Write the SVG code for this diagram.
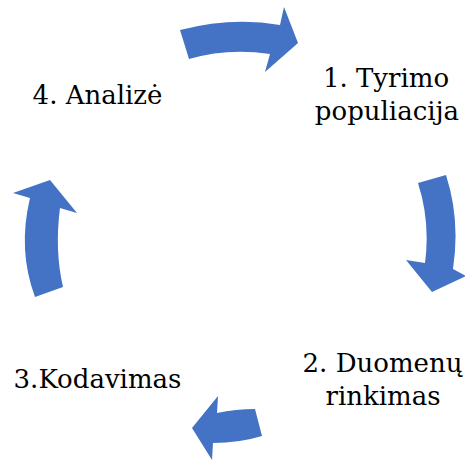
<svg xmlns="http://www.w3.org/2000/svg" width="465" height="461" viewBox="0 0 465 461">
  <style>
    .arrow { fill: #4472C4; stroke: none; }
    .label { font-size: 26px; fill: #000; text-anchor: middle; }
  </style>
  <rect width="465" height="461" fill="#fff"/>

  <!-- curved block arrows of the cycle -->
  <g id="connectors">
    <path class="arrow" d="M180,30 Q232,16.5 280,25 L284,7 L298,43 L265,72 L270,54 Q228,47.5 189,59 Z"/>
    <path class="arrow" d="M418,183 Q430.5,222 425,263 L406,260 L432,292 L466,276 L453,269 Q460.5,220 446,175 Z"/>
    <path class="arrow" d="M255,409 Q236,409 217,413 L218,396 L192,428 L212,460 L213,443 Q239,443 262,436 Z"/>
    <path class="arrow" d="M35,297 Q17.5,250 30,198 L13,193 L50,180 L77,213 L60,208 Q54.5,250 63,287 Z"/>
  </g>

  <g id="step1" font-family="DejaVu Serif">
    <text class="label" x="386" y="87">1. Tyrimo</text>
    <text class="label" x="387" y="120">populiacija</text>
  </g>
  <g id="step2" font-family="DejaVu Serif">
    <text class="label" x="382.5" y="372">2. Duomenų</text>
    <text class="label" x="383" y="405">rinkimas</text>
  </g>
  <g id="step3" font-family="DejaVu Serif">
    <text class="label" x="97.5" y="388">3.Kodavimas</text>
  </g>
  <g id="step4" font-family="DejaVu Serif">
    <text class="label" x="97.5" y="104">4. Analizė</text>
  </g>
</svg>
